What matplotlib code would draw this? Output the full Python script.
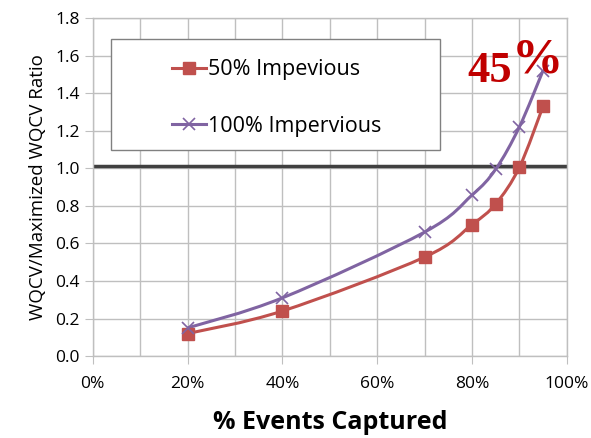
import matplotlib
matplotlib.use("Agg")
import matplotlib.pyplot as plt
from matplotlib.path import Path
from matplotlib.patches import PathPatch, Rectangle
import numpy as np

captured = [20, 40, 70, 80, 85, 90, 95]
imp50 = [0.12, 0.24, 0.527, 0.70, 0.81, 1.005, 1.33]
imp100 = [0.15, 0.31, 0.66, 0.857, 0.995, 1.22, 1.52]
ref_line = 1.01
xticks = [0, 20, 40, 60, 80, 100]
xtick_labels = ["0%", "20%", "40%", "60%", "80%", "100%"]
yticks = [0.0, 0.2, 0.4, 0.6, 0.8, 1.0, 1.2, 1.4, 1.6, 1.8]

RED = "#C0504D"
PURPLE = "#8064A2"
GRID = "#BFBFBF"

plt.rcParams['font.family'] = ['Open Sans', 'DejaVu Sans']

fig = plt.figure(figsize=(5.91, 4.38), dpi=100)
ax = fig.add_axes([0.157, 0.187, 0.802, 0.772])


def smooth_path(x, y, t=0.5):
    x = np.asarray(x, float); y = np.asarray(y, float)
    verts = [(x[0], y[0])]
    codes = [Path.MOVETO]
    n = len(x)
    for i in range(n - 1):
        p0 = (x[i - 1], y[i - 1]) if i > 0 else (x[i], y[i])
        p1 = (x[i], y[i]); p2 = (x[i + 1], y[i + 1])
        p3 = (x[i + 2], y[i + 2]) if i + 2 < n else p2
        c1 = (p1[0] + (p2[0] - p0[0]) * t / 3, p1[1] + (p2[1] - p0[1]) * t / 3)
        c2 = (p2[0] - (p3[0] - p1[0]) * t / 3, p2[1] - (p3[1] - p1[1]) * t / 3)
        verts += [c1, c2, p2]
        codes += [Path.CURVE4] * 3
    return Path(verts, codes)

ax.add_patch(PathPatch(smooth_path(captured, imp50), facecolor='none', edgecolor=RED, lw=2.2, zorder=3))
ax.add_patch(PathPatch(smooth_path(captured, imp100), facecolor='none', edgecolor=PURPLE, lw=2.2, zorder=3))
ax.plot(captured, imp50, ls='none', marker='s', ms=9, color=RED, zorder=4)
ax.plot(captured, imp100, ls='none', marker='x', ms=9, mew=1.2, color=PURPLE, zorder=4)
# legend proxies
h1, = ax.plot([], [], color=RED, lw=2.2, marker='s', ms=9, label='50% Impevious')
h2, = ax.plot([], [], color=PURPLE, lw=2.2, marker='x', ms=9, mew=1.2, label='100% Impervious')

ax.axhline(ref_line, color='#404040', lw=2.5, zorder=2)

ax.set_xlim(0, 100)
ax.set_ylim(0, 1.8)
ax.set_xticks(xticks)
ax.set_xticklabels(xtick_labels)
ax.set_xticks(np.arange(10, 100, 20), minor=True)
ax.set_yticks(yticks)
ax.set_yticklabels([f"{v:.1f}" for v in yticks])
ax.grid(True, which='both', color=GRID, lw=1.0, zorder=0)
ax.set_axisbelow(True)
ax.tick_params(axis='both', which='major', length=6, color=GRID, labelsize=12.5, labelcolor='#000000')
ax.tick_params(axis='x', which='minor', length=0)
ax.tick_params(axis='x', pad=8)
for s in ax.spines.values():
    s.set_color(GRID)
    s.set_linewidth(1.0)

ax.set_xlabel('% Events Captured', fontsize=18, fontweight='bold', labelpad=13)
ax.set_ylabel('WQCV/Maximized WQCV Ratio', fontsize=13.5, labelpad=6)

# legend frame
ax.add_patch(Rectangle((0.038, 0.609), 0.694, 0.329, transform=ax.transAxes,
                       facecolor='white', edgecolor='#808080', lw=1.0, zorder=5))
leg = ax.legend(handles=[h1, h2], loc='upper left', bbox_to_anchor=(0.168, 0.878), fontsize=15.5,
                frameon=False, labelspacing=1.65, borderpad=0, handlelength=1.55, handletextpad=0.1,
                borderaxespad=0)
leg.set_zorder(6)

ax.text(88.4, 1.459, '45', fontsize=32, fontweight='bold', color='#C00000',
        family=['Liberation Serif'], ha='right', va='baseline', zorder=7)
ax.text(88.4, 1.507, '%', fontsize=37, fontweight='bold', color='#C00000',
        family=['Liberation Serif'], ha='left', va='baseline', zorder=7)

fig.savefig('out.png', dpi=100)
